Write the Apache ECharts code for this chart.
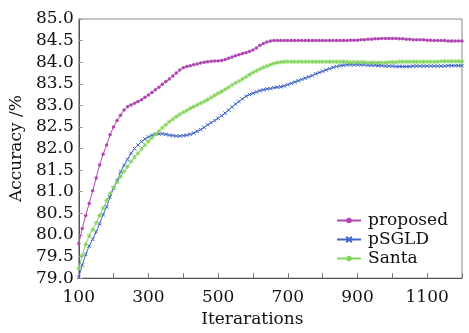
<!DOCTYPE html>
<html>
<head>
<meta charset="utf-8">
<script src="https://cdn.jsdelivr.net/npm/echarts@6/dist/echarts.min.js"></script>
<style>
  html, body { margin: 0; padding: 0; background: #fff; }
  #chart { width: 469px; height: 333px; }
</style>
</head>
<body>
<div id="chart"></div>
<script>
// iterations, one point every 10
const iterations = [];
for (let it = 100; it <= 1200; it += 10) iterations.push(it);

const proposed = [
  79.80, 80.15, 80.45, 80.73, 81.02, 81.32, 81.62, 81.87, 82.08, 82.32,
  82.50, 82.65, 82.77, 82.89, 82.97, 83.01, 83.05, 83.09, 83.13, 83.19,
  83.24, 83.30, 83.36, 83.42, 83.49, 83.55, 83.61, 83.68, 83.75, 83.82,
  83.87, 83.90, 83.92, 83.94, 83.96, 83.98, 84.00, 84.01, 84.02, 84.03,
  84.03, 84.04, 84.06, 84.09, 84.12, 84.15, 84.17, 84.20, 84.22, 84.25,
  84.28, 84.33, 84.39, 84.43, 84.47, 84.49, 84.50, 84.50, 84.50, 84.50,
  84.50, 84.50, 84.50, 84.50, 84.50, 84.50, 84.50, 84.50, 84.50, 84.50,
  84.50, 84.50, 84.50, 84.50, 84.50, 84.50, 84.50, 84.50, 84.51, 84.51,
  84.51, 84.52, 84.52, 84.53, 84.53, 84.54, 84.54, 84.55, 84.55, 84.55,
  84.55, 84.55, 84.54, 84.54, 84.53, 84.53, 84.52, 84.52, 84.52, 84.52,
  84.51, 84.51, 84.50, 84.50, 84.50, 84.50, 84.49, 84.49, 84.49, 84.49,
  84.49
];

const psgld = [
  79.02, 79.30, 79.55, 79.74, 79.90, 80.07, 80.26, 80.47, 80.65, 80.88,
  81.08, 81.26, 81.46, 81.61, 81.75, 81.89, 82.00, 82.08, 82.16, 82.22,
  82.27, 82.31, 82.33, 82.34, 82.34, 82.33, 82.31, 82.30, 82.29, 82.29,
  82.30, 82.31, 82.33, 82.36, 82.40, 82.44, 82.49, 82.55, 82.60, 82.65,
  82.70, 82.76, 82.82, 82.89, 82.96, 83.03, 83.09, 83.15, 83.21, 83.25,
  83.28, 83.31, 83.34, 83.36, 83.38, 83.39, 83.41, 83.42, 83.43, 83.45,
  83.48, 83.51, 83.54, 83.57, 83.60, 83.63, 83.66, 83.69, 83.73, 83.76,
  83.79, 83.82, 83.85, 83.88, 83.90, 83.92, 83.93, 83.94, 83.94, 83.94,
  83.94, 83.94, 83.94, 83.93, 83.93, 83.93, 83.92, 83.92, 83.91, 83.91,
  83.91, 83.90, 83.90, 83.90, 83.90, 83.90, 83.91, 83.91, 83.91, 83.91,
  83.91, 83.91, 83.91, 83.91, 83.91, 83.91, 83.92, 83.92, 83.92, 83.92,
  83.92
];

const santa = [
  79.22, 79.52, 79.78, 79.98, 80.12, 80.28, 80.45, 80.62, 80.80, 80.96,
  81.10, 81.22, 81.35, 81.47, 81.58, 81.70, 81.80, 81.89, 81.99, 82.08,
  82.17, 82.25, 82.33, 82.40, 82.48, 82.55, 82.62, 82.68, 82.74, 82.79,
  82.84, 82.88, 82.93, 82.97, 83.01, 83.05, 83.09, 83.13, 83.18, 83.23,
  83.28, 83.32, 83.37, 83.42, 83.47, 83.52, 83.56, 83.61, 83.66, 83.71,
  83.76, 83.80, 83.84, 83.88, 83.91, 83.94, 83.97, 83.99, 84.00, 84.01,
  84.01, 84.01, 84.01, 84.01, 84.01, 84.01, 84.01, 84.01, 84.01, 84.01,
  84.01, 84.01, 84.01, 84.01, 84.01, 84.01, 84.01, 84.01, 84.00, 84.00,
  84.00, 84.00, 84.00, 83.99, 83.99, 83.99, 83.99, 83.99, 83.99, 84.00,
  84.00, 84.00, 84.01, 84.01, 84.01, 84.01, 84.01, 84.01, 84.01, 84.01,
  84.01, 84.01, 84.01, 84.01, 84.02, 84.02, 84.02, 84.02, 84.02, 84.02,
  84.02
];

const seriesNames = ['proposed', 'pSGLD', 'Santa'];
const xLabelValues = [100, 300, 500, 700, 900, 1100];

const FONT = 'DejaVu Serif';
const xMark = 'path://M0,0L10,10M10,0L0,10';
const starMark = 'path://M5,0L5,10M0,5L10,5M1.5,1.5L8.5,8.5M8.5,1.5L1.5,8.5';

const chart = echarts.init(document.getElementById('chart'));

const makeSeries = (name, values, color, symbol, size, stroke) => ({
  name,
  type: 'line',
  data: iterations.map((it, i) => [it, values[i]]),
  symbol,
  symbolSize: size,
  showSymbol: true,
  lineStyle: { color, width: 1 },
  itemStyle: stroke
    ? { color, borderColor: color, borderWidth: 1 }
    : { color, borderWidth: 0 },
  emphasis: { disabled: true },
  animation: false,
});

chart.setOption({
  animation: false,
  grid: {
    left: 77,
    right: 7,
    top: 19,
    bottom: 49,
    show: true,
    borderColor: '#8a8a8a',
    borderWidth: 1,
  },
  legend: {
    orient: 'vertical',
    left: 331,
    top: 207,
    itemWidth: 24,
    itemHeight: 7,
    itemGap: 2,
    data: seriesNames,
    textStyle: { fontFamily: FONT, fontSize: 17, color: '#111', padding: [0, 0, 0, 2] },
  },
  xAxis: {
    type: 'value',
    min: 100,
    max: 1200,
    interval: 100,
    name: 'Iterarations',
    nameLocation: 'middle',
    nameGap: 32,
    nameTextStyle: { fontFamily: FONT, fontSize: 17, color: '#111', padding: [0, 36, 0, 0] },
    axisLine: { lineStyle: { color: '#555', width: 1 } },
    axisTick: { show: true, inside: true, length: 5, lineStyle: { color: '#777' } },
    axisLabel: {
      fontFamily: FONT,
      fontSize: 17,
      color: '#111',
      margin: 11,
      formatter: (v) => (xLabelValues.includes(v) ? String(v) : ''),
    },
    splitLine: { show: false },
  },
  yAxis: {
    type: 'value',
    min: 79,
    max: 85,
    interval: 0.5,
    name: 'Accuracy /%',
    nameLocation: 'middle',
    nameGap: 44,
    nameTextStyle: { fontFamily: FONT, fontSize: 17, color: '#111' },
    axisLine: { show: true, lineStyle: { color: '#555', width: 1 } },
    axisTick: { show: true, inside: true, length: 4, lineStyle: { color: '#999' } },
    axisLabel: {
      fontFamily: FONT,
      fontSize: 17,
      color: '#111',
      margin: 5,
      formatter: (v) => v.toFixed(1),
    },
    splitLine: { show: false },
  },
  series: [
    makeSeries('proposed', proposed, '#b048b4', 'circle', 3.5, false),
    makeSeries('pSGLD', psgld, '#3f63c8', xMark, 3.5, true),
    makeSeries('Santa', santa, '#86d45e', starMark, 4.5, true),
  ],
});
</script>
</body>
</html>
